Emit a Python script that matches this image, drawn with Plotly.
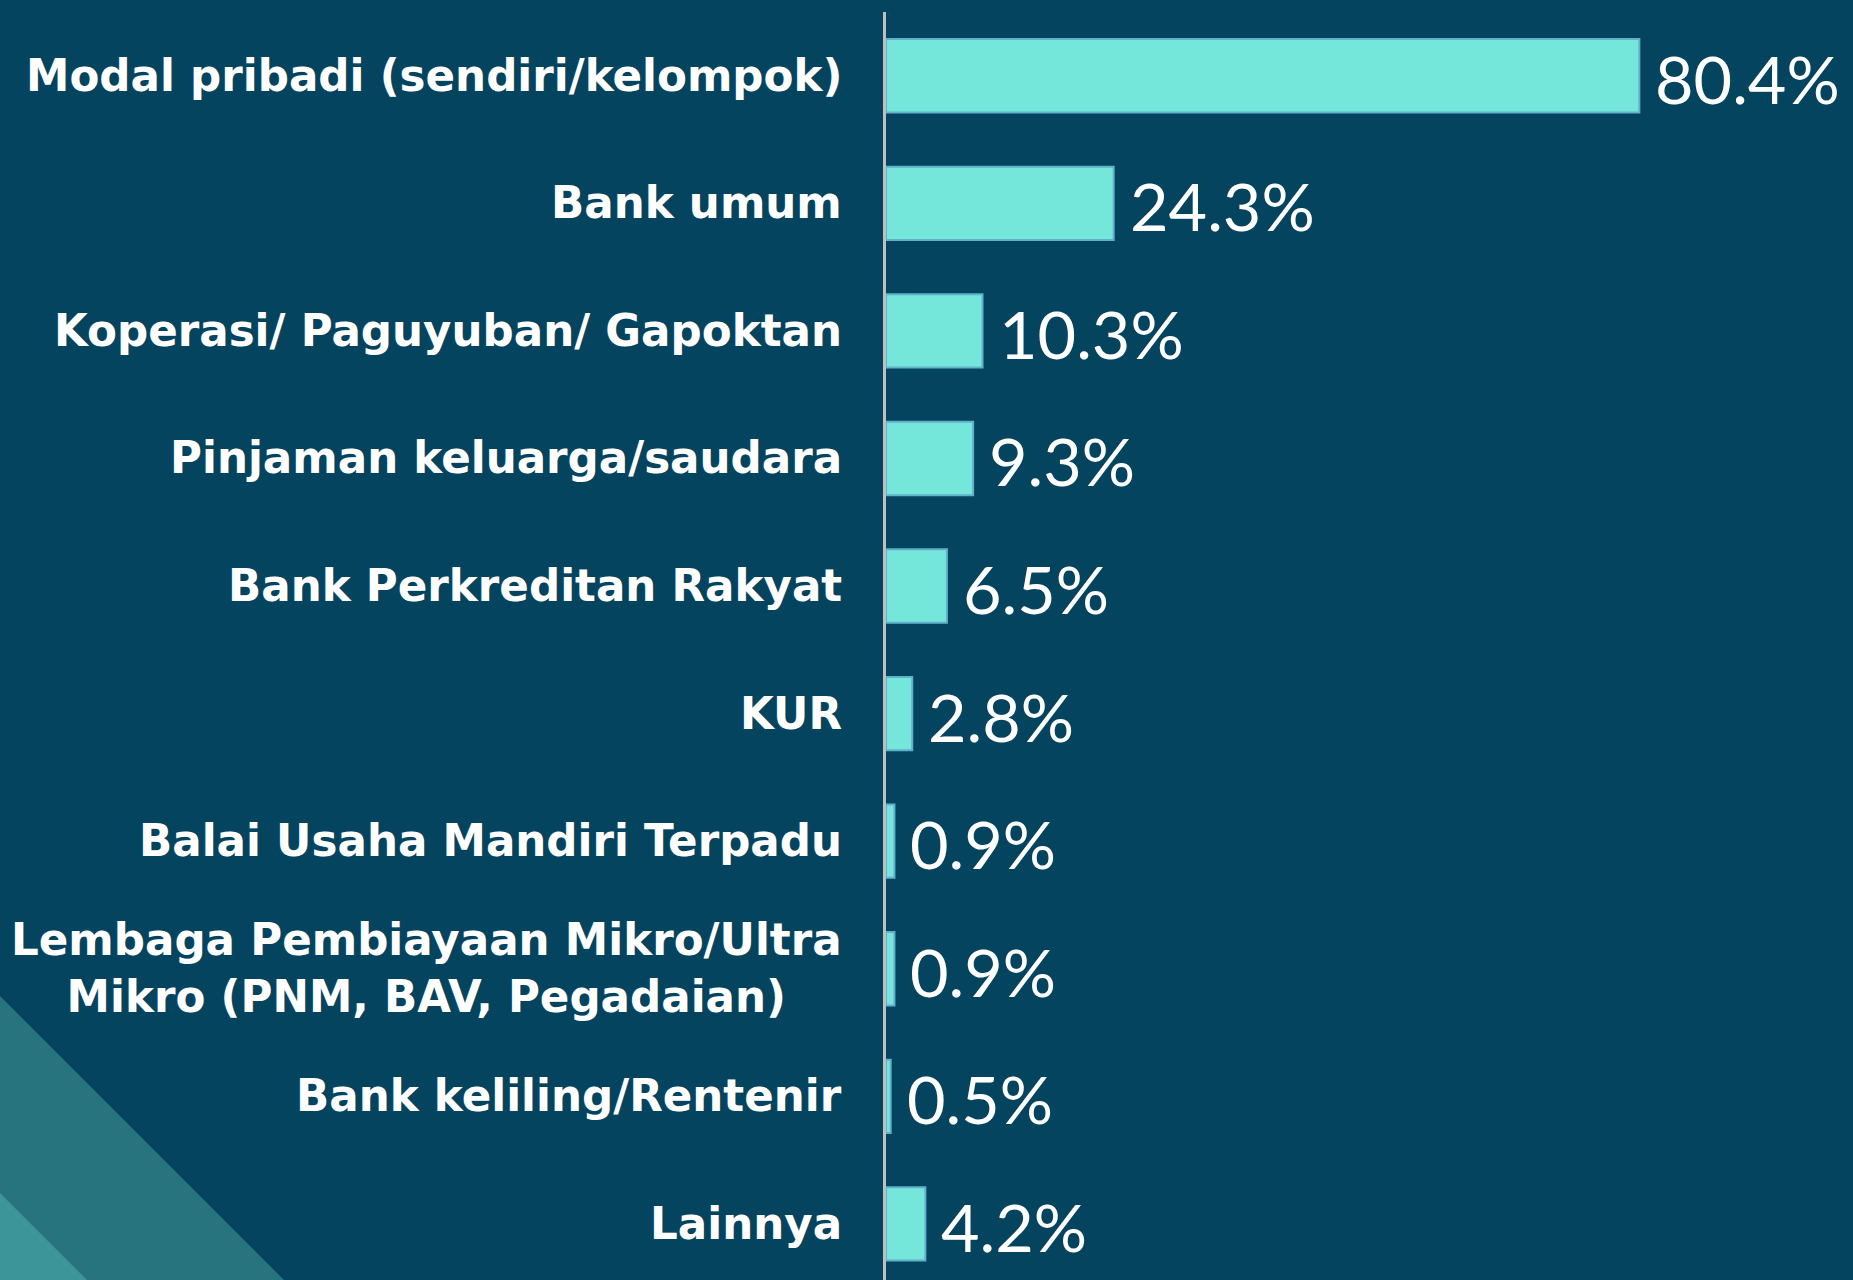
import plotly.graph_objects as go

categories = [
    "Modal pribadi (sendiri/kelompok)",
    "Bank umum",
    "Koperasi/ Paguyuban/ Gapoktan",
    "Pinjaman keluarga/saudara",
    "Bank Perkreditan Rakyat",
    "KUR",
    "Balai Usaha Mandiri Terpadu",
    "Lembaga Pembiayaan Mikro/Ultra<br>Mikro (PNM, BAV, Pegadaian)",
    "Bank keliling/Rentenir",
    "Lainnya",
]
values = [80.4, 24.3, 10.3, 9.3, 6.5, 2.8, 0.9, 0.9, 0.5, 4.2]
value_labels = ["80.4%", "24.3%", "10.3%", "9.3%", "6.5%", "2.8%", "0.9%", "0.9%", "0.5%", "4.2%"]

BG = "#05445E"
positions = list(range(len(categories)))

fig = go.Figure()
fig.add_trace(go.Bar(
    x=values,
    y=positions,
    orientation="h",
    width=0.575,
    marker=dict(color="#75E6DA", line=dict(color="#62B0CB", width=2)),
    hoverinfo="skip",
))

annotations = []
for i, (cat, lab, v) in enumerate(zip(categories, value_labels, values)):
    annotations.append(dict(
        x=0, y=i, xref="x", yref="y", text=f"<b>{cat}</b>",
        xanchor="right", yanchor="middle", align="center", xshift=-42,
        showarrow=False,
        font=dict(family="DejaVu Sans", size=43.6, color="white"),
    ))
    annotations.append(dict(
        x=v, y=i, xref="x", yref="y", text=lab,
        xanchor="left", yanchor="middle", xshift=14, yshift=-2,
        showarrow=False,
        font=dict(family="Lato", size=66.5, color="white"),
    ))

# decorative corner triangles (paper coords relative to plot area)
PL, PW, PT, PH = 886, 967, 12, 1268
def px(xp):
    return (xp - PL) / PW
def py(yp):
    return (1280 - yp) / PH

shapes = [
    dict(type="path", xref="paper", yref="paper", layer="below",
         path=f"M {px(-10)},{py(986)} L {px(294)},{py(1290)} L {px(-10)},{py(1290)} Z",
         fillcolor="#27737E", line=dict(width=0)),
    dict(type="path", xref="paper", yref="paper", layer="below",
         path=f"M {px(-10)},{py(1183)} L {px(97)},{py(1290)} L {px(-10)},{py(1290)} Z",
         fillcolor="#3C9598", line=dict(width=0)),
]

fig.update_layout(
    width=1853, height=1280,
    margin=dict(l=886, r=0, t=12, b=0, pad=0),
    paper_bgcolor=BG, plot_bgcolor=BG,
    showlegend=False,
    annotations=annotations,
    shapes=shapes,
    xaxis=dict(range=[0, 103.2], visible=False, showgrid=False, zeroline=False),
    yaxis=dict(range=[9.44, -0.5], showgrid=False, zeroline=False,
               showticklabels=False, ticks="",
               showline=True, linecolor="#BFBFBF", linewidth=3),
    bargap=0.4,
)

fig.write_html("out.html", config={"displayModeBar": False},
               post_script="document.body.style.margin='0';document.body.style.overflow='hidden';")
